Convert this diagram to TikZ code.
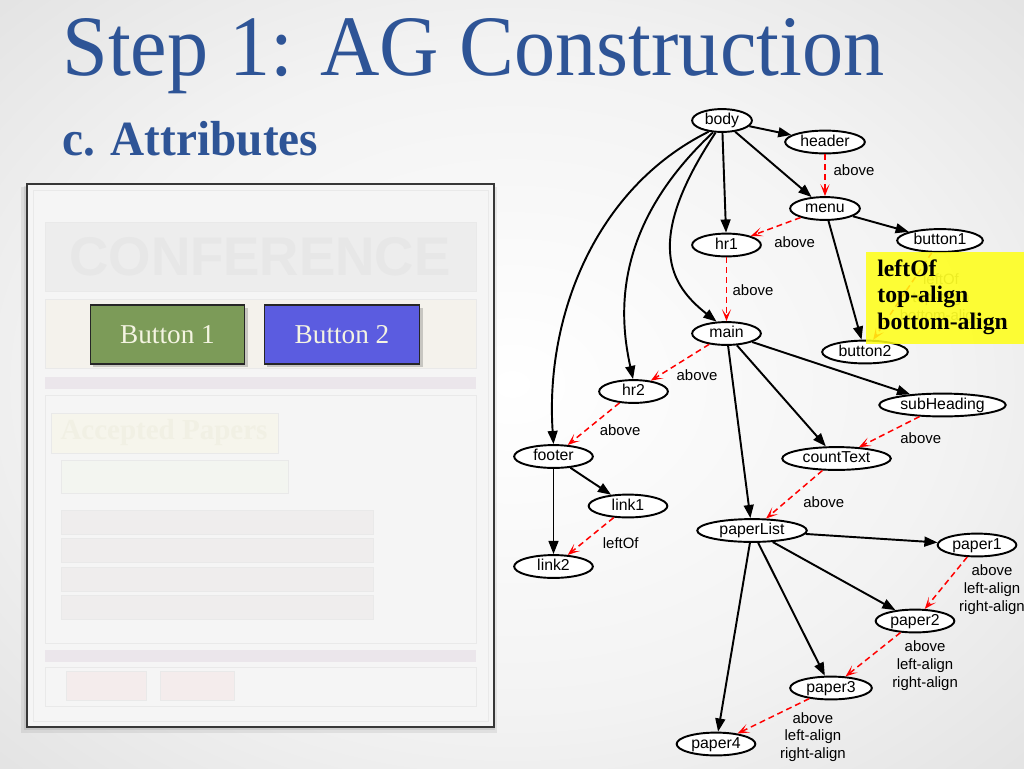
\documentclass[tikz,border=0pt]{standalone}
\usepackage{fontspec}
\setmainfont{Liberation Serif}
\newfontfamily\graphfont{Liberation Sans}
\usetikzlibrary{shapes.geometric, arrows.meta}

\definecolor{titleblue}{RGB}{46,84,150}
\definecolor{framegray}{RGB}{55,55,55}
\definecolor{pagebg}{RGB}{245,245,245}
\definecolor{pageline}{RGB}{233,233,233}
\definecolor{headbg}{RGB}{237,237,237}
\definecolor{headtext}{RGB}{231,231,231}
\definecolor{navbg}{RGB}{244,242,236}
\definecolor{barbg}{RGB}{235,230,235}
\definecolor{paperbg}{RGB}{246,245,236}
\definecolor{papertext}{RGB}{241,240,228}
\definecolor{countbg}{RGB}{243,245,240}
\definecolor{rowbg}{RGB}{239,237,237}
\definecolor{linkbg}{RGB}{244,236,236}
\definecolor{btngreen}{RGB}{124,155,88}
\definecolor{btnblue}{RGB}{91,92,224}
\definecolor{btntext}{RGB}{244,244,226}
\definecolor{hintyellow}{RGB}{255,255,20}

\pgfdeclareradialshading{slideshade}{\pgfpoint{0bp}{0bp}}{color(0bp)=(white); color(22bp)=(white!95!black); color(50bp)=(black!17); color(75bp)=(black!21)}

\begin{document}
\begin{tikzpicture}[x = 0.02cm, y = -0.02cm,
	element/.style = {ellipse, draw, line width = 1.1pt, fill = white,
		font = \graphfont\fontsize{9}{10}\selectfont, inner sep = 0pt,
		text height = 6.5pt, text depth = 1.8pt,
		minimum height = 13pt, minimum width = #1 * 0.567pt},
	element/.default = 79,
	nest/.style = {line width = 1.1pt, -{Triangle[length = 7.5pt, width = 5.6pt]}},
	attr/.style = {red, line width = 0.85pt, dash pattern = on 3.4pt off 2.2pt,
		-{Stealth[length = 6.8pt, width = 5.2pt, inset = 3.6pt]}},
	attrlabel/.style = {text = black, font = \graphfont\fontsize{8.5}{10.2}\selectfont, align = center, inner sep = 0pt},
	button/.style = {draw = black!85, line width = 0.8pt, text = btntext,
		font = \fontsize{15.5}{16}\selectfont,
		minimum width = 155 * 0.567pt, minimum height = 59 * 0.567pt}]

	% Slide background

	\useasboundingbox (0, 0) rectangle (1024, 768);
	\shade [shading = slideshade] (0, 0) rectangle (1024, 768);

	% Titles

	\node [anchor = base west, inner sep = 0pt, text = titleblue, font = \fontsize{49}{50}\selectfont] (title) at (62, 75) {\scalebox{0.955}[1]{Step 1: AG Construction}};
	\node [anchor = base west, inner sep = 0pt, text = titleblue, font = \bfseries\fontsize{28}{30}\selectfont] (subtitle) at (62, 155) {\scalebox{0.96}[1]{c. Attributes}};

	% Page mock-up

	\fill [black, opacity = 0.07] (21, 187) rectangle (497, 733);
	\fill [black, opacity = 0.08] (24, 186) rectangle (495, 730);
	\filldraw [fill = pagebg, draw = framegray, line width = 1pt] (27, 184) rectangle (494, 727);
	\draw [pageline] (33, 190) rectangle (488, 721);

	\filldraw [fill = headbg, draw = pageline] (45, 222) rectangle (476, 291);
	\node [text = headtext, font = \graphfont\bfseries\fontsize{31}{31}\selectfont] (conference) at (260, 257) {CONFERENCE};

	\filldraw [fill = navbg, draw = pageline] (45, 299) rectangle (476, 368);
	\fill [black, opacity = 0.18] (93, 308) rectangle (248, 367);
	\fill [black, opacity = 0.18] (267, 308) rectangle (423, 367);
	\node [button, fill = btngreen] (btnone) at (167.5, 334.5) {Button 1};
	\node [button, fill = btnblue, minimum width = 156 * 0.567pt] (btntwo) at (342, 334.5) {Button 2};

	\fill [barbg] (45, 377) rectangle (476, 389);
	\filldraw [fill = pagebg, draw = pageline] (45, 395) rectangle (476, 643);
	\filldraw [fill = paperbg, draw = pageline] (51, 413) rectangle (278, 453);
	\node [text = papertext, font = \bfseries\fontsize{16.5}{17}\selectfont] (accepted) at (164, 433) {Accepted Papers};
	\filldraw [fill = countbg, draw = pageline] (61, 460) rectangle (288, 493);

	\foreach \Y in {510, 538.5, 567, 595.5}
		\filldraw [fill = rowbg, draw = pageline] (61, \Y) rectangle (373, \Y + 24);

	\fill [barbg] (45, 650) rectangle (476, 662);
	\filldraw [fill = pagebg, draw = pageline] (45, 667) rectangle (476, 706);
	\filldraw [fill = linkbg, draw = pageline] (66, 671) rectangle (146, 700);
	\filldraw [fill = linkbg, draw = pageline] (160, 671) rectangle (234, 700);

	% Attribute graph nodes

	\node [element = 60] (body) at (722, 120.5) {body};
	\node [element = 80] (header) at (825, 142) {header};
	\node [element = 70] (menu) at (825, 208.5) {menu};
	\node [element = 69] (hr1) at (726.5, 245) {hr1};
	\node [element = 86] (button1) at (940, 240.5) {button1};
	\node [element = 86] (button2) at (865, 352) {button2};
	\node [element = 69] (main) at (726.5, 333.5) {main};
	\node [element = 69] (hr2) at (633.5, 391.5) {hr2};
	\node [element = 127] (subHeading) at (942.5, 405) {subHeading};
	\node [element] (footer) at (553.5, 456.5) {footer};
	\node [element = 109] (countText) at (836.5, 458.5) {countText};
	\node [element] (link1) at (628, 506) {link1};
	\node [element = 110] (paperList) at (752, 530.5) {paperList};
	\node [element] (link2) at (553.5, 566.5) {link2};
	\node [element] (paper1) at (977, 545) {paper1};
	\node [element] (paper2) at (915, 621) {paper2};
	\node [element = 82] (paper3) at (831, 688) {paper3};
	\node [element] (paper4) at (716, 744) {paper4};

	% Nesting edges

	\draw [nest] (body) -- (header);
	\draw [nest] (body) -- (menu);
	\draw [nest] (body) -- (hr1);
	\draw [nest] (body.-118) .. controls (643, 242) and (670, 285) .. (main.130);
	\draw [nest] (body.-127) .. controls (615, 224) and (618, 311) .. (hr2.92);
	\draw [nest] (body.-140) .. controls (595, 188) and (545, 317) .. (footer.90);
	\draw [nest] (menu) -- (button1);
	\draw [nest] (menu) -- (button2);
	\draw [nest] (main) -- (subHeading);
	\draw [nest] (main) -- (countText);
	\draw [nest] (main) -- (paperList);
	\draw [nest] (footer) -- (link1);
	\draw [nest] (footer) -- (link2);
	\draw [nest] (paperList) -- (paper1);
	\draw [nest] (paperList) -- (paper2);
	\draw [nest] (paperList) -- (paper3);
	\draw [nest] (paperList) -- (paper4);

	% Attribute edges

	\draw [attr] (header) -- node [attrlabel, shift = {(29, -5.5)}] {above} (menu);
	\draw [attr] (menu) -- node [attrlabel, shift = {(19, 15.5)}] {above} (hr1);
	\draw [attr] (hr1) -- node [attrlabel, shift = {(26.5, 0.5)}] {above} (main);
	\draw [attr] (main) -- node [attrlabel, shift = {(17, 12.5)}] {above} (hr2);
	\draw [attr] (hr2) -- node [attrlabel, shift = {(26.5, 6)}] {above} (footer);
	\draw [attr] (link1) -- node [attrlabel, shift = {(30, 7)}] {leftOf} (link2);
	\draw [attr] (subHeading) -- node [attrlabel, shift = {(31.5, 6)}] {above} (countText);
	\draw [attr] (countText) -- node [attrlabel, shift = {(29.5, 7.5)}] {above} (paperList);
	\draw [attr] (paper1) -- node [attrlabel, shift = {(46, 7)}] {above\\left-align\\right-align} (paper2);
	\draw [attr] (paper2) -- node [attrlabel, shift = {(52, 11.5)}] {above\\left-align\\right-align} (paper3);
	\draw [attr] (paper3) -- node [attrlabel, shift = {(39.5, 21)}] {above\\left-align\\right-align} (paper4);
	\draw [attr] (button1) -- node [attrlabel, text = gray, shift = {(38.5, 2)}] {leftOf\\top-align\\bottom-align} (button2);

	% Highlighted attribute set

	\fill [hintyellow, opacity = 0.85] (866, 252) rectangle (1030, 344);
	\node [anchor = west, align = left, inner sep = 0pt, font = \bfseries\fontsize{13.5}{15}\selectfont] (hint) at (877, 297) {leftOf\\top-align\\bottom-align};

\end{tikzpicture}
\end{document}
